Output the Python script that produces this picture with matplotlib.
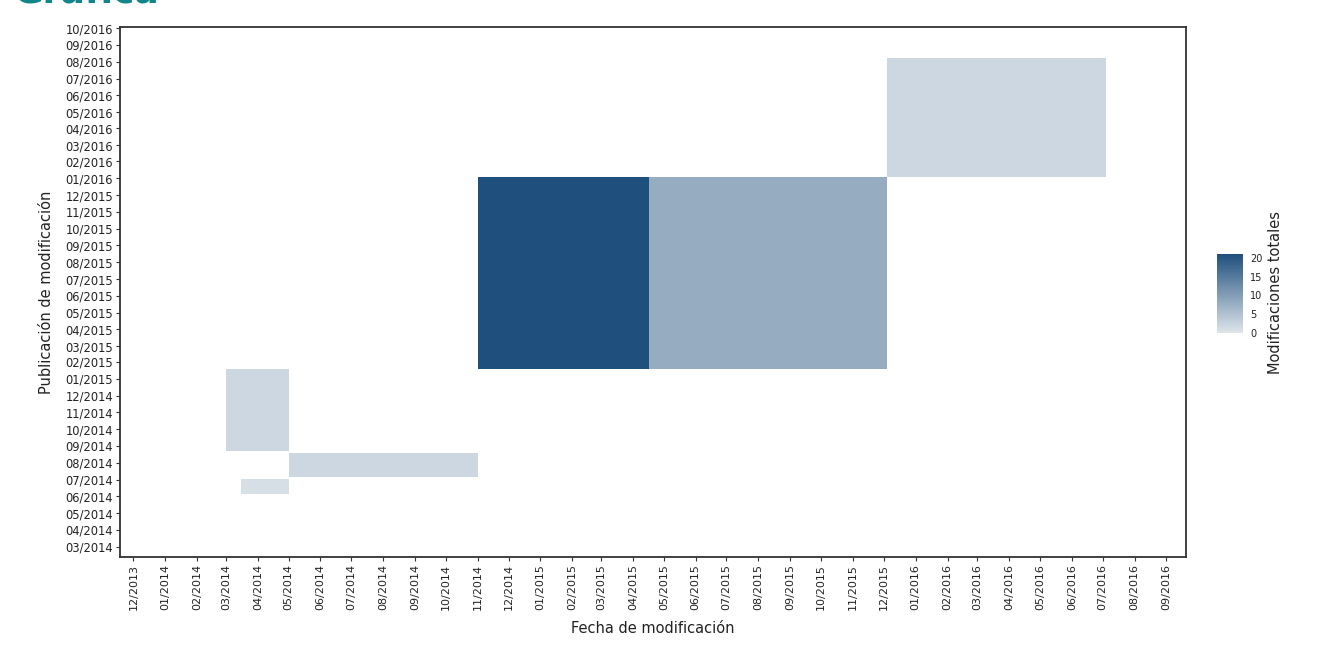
import matplotlib
matplotlib.use("Agg")
import matplotlib.pyplot as plt
import matplotlib.dates as mdates
from matplotlib.colors import LinearSegmentedColormap, Normalize
from matplotlib.patches import Rectangle
import pandas as pd

# Blocks of modifications: span of modification date (x) and publication date (y)
x_start = ["2014-03-01", "2014-05-01", "2014-03-16", "2014-11-01", "2015-04-17", "2015-12-04"]
x_end   = ["2014-05-01", "2014-11-01", "2014-05-01", "2015-04-17", "2015-12-04", "2016-07-04"]
y_start = ["2014-08-22", "2014-07-06", "2014-06-04", "2015-01-19", "2015-01-19", "2016-01-04"]
y_end   = ["2015-01-19", "2014-08-19", "2014-07-03", "2016-01-04", "2016-01-04", "2016-08-07"]
total_mods = [2, 2, 1, 21, 8, 2]

# Monthly tick labels
x_months = pd.date_range("2013-12-01", "2016-09-01", freq="MS")
y_months = pd.date_range("2014-03-01", "2016-10-01", freq="MS")
colorbar_ticks = [0, 5, 10, 15, 20]

plt.rcParams["font.family"] = ["DejaVu Sans"]

fig = plt.figure(figsize=(13.41, 6.61), dpi=100, facecolor="white")
ax = fig.add_axes([0.0895, 0.1573, 0.7949, 0.8019])
ax.set_facecolor("white")

cmap = LinearSegmentedColormap.from_list("blues_mod", ["#dfe5eb", "#1f4f7c"])
norm = Normalize(vmin=0, vmax=21)

def to_num(s):
    return mdates.date2num(pd.Timestamp(s))

for xs, xe, ys, ye, v in zip(x_start, x_end, y_start, y_end, total_mods):
    x0, x1 = to_num(xs), to_num(xe)
    y0, y1 = to_num(ys), to_num(ye)
    ax.add_patch(Rectangle((x0, y0), x1 - x0, y1 - y0,
                           facecolor=cmap(norm(v)), edgecolor="none", zorder=2))

ax.set_xlim(to_num("2013-11-18"), to_num("2016-09-20"))
ax.set_ylim(to_num("2014-02-10"), to_num("2016-10-03"))

ax.set_xticks([mdates.date2num(d) for d in x_months])
ax.set_xticklabels([d.strftime("%m/%Y") for d in x_months], rotation=90, fontsize=8)
ax.set_yticks([mdates.date2num(d) for d in y_months])
ax.set_yticklabels([d.strftime("%m/%Y") for d in y_months], fontsize=8.3)
ax.tick_params(axis="both", length=3, width=0.8, color="#333333", pad=2, labelcolor="#222222")

for sp in ax.spines.values():
    sp.set_color("#333333")
    sp.set_linewidth(1.3)

ax.set_xlabel("Fecha de modificación", fontsize=10.5, color="#222222", labelpad=8)
ax.set_ylabel("Publicación de modificación", fontsize=10.5, color="#222222", labelpad=8)

# Colour bar legend
cax = fig.add_axes([0.9075, 0.4962, 0.0194, 0.1195])
cb = fig.colorbar(plt.cm.ScalarMappable(norm=norm, cmap=cmap), cax=cax, ticks=colorbar_ticks)
cb.outline.set_visible(False)
cb.ax.tick_params(length=3, color="white", labelsize=7, pad=2, labelcolor="#222222")
fig.text(0.951, 0.558, "Modificaciones totales", rotation=90, ha="center", va="center",
         fontsize=10.5, color="#222222")

# Heading cut by the top edge
fig.text(0.01, 1 - 4 / 661, "Gráfica", color="#11868a", fontsize=26, fontweight="bold",
         ha="left", va="baseline")

fig.savefig("out.png", dpi=100, facecolor="white")
